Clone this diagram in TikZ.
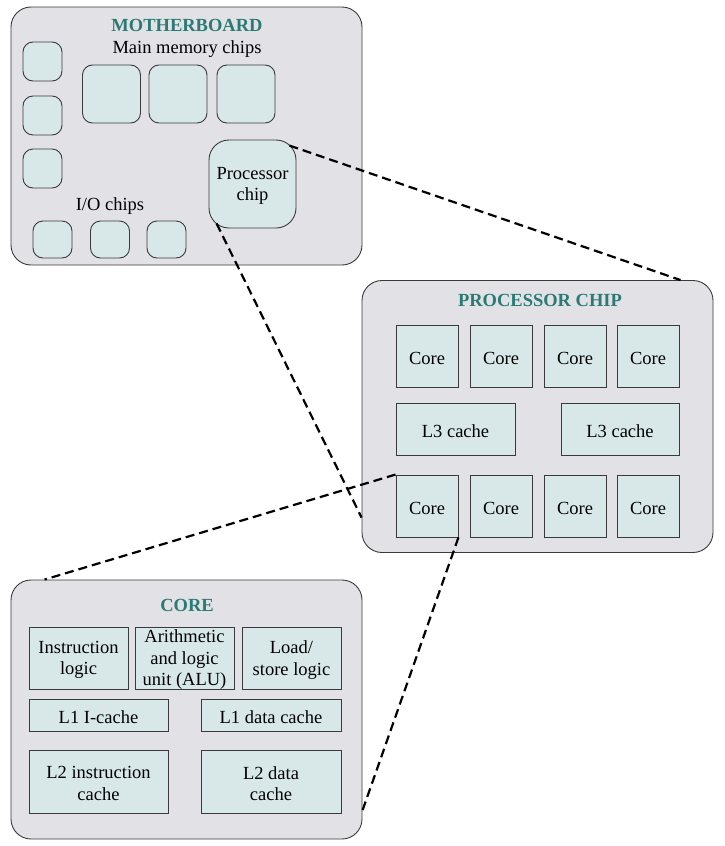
\documentclass[tikz,border=0pt]{standalone}
\usepackage{fontspec}
\setmainfont{Liberation Serif}
\usetikzlibrary{calc}
\definecolor{boxgray}{HTML}{E2E2E6}
\definecolor{chipfill}{HTML}{D8E8E8}
\definecolor{titleteal}{HTML}{2B7A74}
\definecolor{edge}{HTML}{3A3A3A}
\begin{document}
\begin{tikzpicture}[x=1pt,y=-1pt,
  every node/.style={font=\fontsize{18.5}{21.5}\selectfont, align=center, inner sep=0pt},
  bigbox/.style={draw=edge, line width=0.9pt, fill=boxgray, rounded corners=20pt},
  rchip/.style={draw=edge, line width=0.9pt, fill=chipfill, rounded corners=10pt},
  pchip/.style={draw=edge, line width=0.9pt, fill=chipfill, rounded corners=20pt},
  cbox/.style={draw=edge, line width=0.9pt, fill=chipfill},
  txt/.style={label={[yshift=-2pt, align=center]center:#1}},
  ttl/.style={font=\fontsize{18.5}{21.5}\selectfont\bfseries, text=titleteal},
  zoomline/.style={dash pattern=on 9pt off 5pt, line width=2.2pt, black}
]
\useasboundingbox (0,0) rectangle (725,846);

% Motherboard
\node[bigbox, minimum width=351pt, minimum height=258pt] (mb) at (186.5,136) {};
\node[ttl] (mbt) at (187,25) {MOTHERBOARD};
\node (mml) at (187,49) {Main memory chips};
\node[rchip, minimum width=39pt, minimum height=39pt] (l1) at (42.5,61.5) {};
\node[rchip, minimum width=39pt, minimum height=39pt] (l2) at (42.5,115.5) {};
\node[rchip, minimum width=39pt, minimum height=39pt] (l3) at (42.5,168.5) {};
\node[rchip, minimum width=58pt, minimum height=58pt] (m1) at (111.5,94) {};
\node[rchip, minimum width=58pt, minimum height=58pt] (m2) at (178,94) {};
\node[rchip, minimum width=58pt, minimum height=58pt] (m3) at (246,94) {};
\node[pchip, minimum width=87pt, minimum height=88pt, txt={Processor\\chip}] (pc) at (252.5,184) {};
\node (iol) at (110,206) {I/O chips};
\node[rchip, minimum width=39pt, minimum height=37pt] (io1) at (52.5,239.5) {};
\node[rchip, minimum width=39pt, minimum height=37pt] (io2) at (110,239.5) {};
\node[rchip, minimum width=39pt, minimum height=37pt] (io3) at (166.5,239.5) {};

% Processor chip
\node[bigbox, minimum width=351pt, minimum height=272pt] (pb) at (537.5,416.5) {};
\node[ttl] (pbt) at (540,300) {PROCESSOR CHIP};
\foreach \x/\n in {427/a,501/b,575/c,648/d}{
  \node[cbox, minimum width=62pt, minimum height=62pt, txt=Core] (c1\n) at (\x,356) {};
  \node[cbox, minimum width=62pt, minimum height=62pt, txt=Core] (c2\n) at (\x,506) {};
}
\node[cbox, minimum width=119pt, minimum height=52pt, txt={L3 cache}] (l3a) at (455.5,429) {};
\node[cbox, minimum width=118pt, minimum height=52pt, txt={L3 cache}] (l3b) at (620,429) {};

% Core
\node[bigbox, minimum width=351pt, minimum height=259pt] (cb) at (186.5,709.5) {};
\node[ttl] (cbt) at (187,605) {CORE};
\node[cbox, minimum width=99pt, minimum height=62pt, txt={Instruction\\logic}] (il) at (78.5,658) {};
\node[cbox, minimum width=99pt, minimum height=62pt, txt={Arithmetic\\and logic\\unit (ALU)}] (alu) at (184.5,658) {};
\node[cbox, minimum width=99pt, minimum height=62pt, txt={Load/\\store logic}] (ls) at (291.5,658) {};
\node[cbox, minimum width=139pt, minimum height=32pt, txt={L1 I-cache}] (l1i) at (98.5,715) {};
\node[cbox, minimum width=140pt, minimum height=32pt, txt={L1 data cache}] (l1d) at (271,715) {};
\node[cbox, minimum width=139pt, minimum height=63pt, txt={L2 instruction\\cache}] (l2i) at (98.5,781.5) {};
\node[cbox, minimum width=140pt, minimum height=63pt, txt={L2 data\\cache}] (l2d) at (271,781.5) {};

% zoom lines
\draw[zoomline] ($(pc.north east)+(-7,6)$) -- ($(pb.north east)+(-33,0)$);
\draw[zoomline] ($(pc.south west)+(8,-5)$) -- ($(pb.west)+(0,101)$);
\draw[zoomline] (c2a.north west) -- ($(cb.north west)+(34,0)$);
\draw[zoomline] (c2a.south east) -- ($(cb.east)+(0,101)$);
\end{tikzpicture}
\end{document}
